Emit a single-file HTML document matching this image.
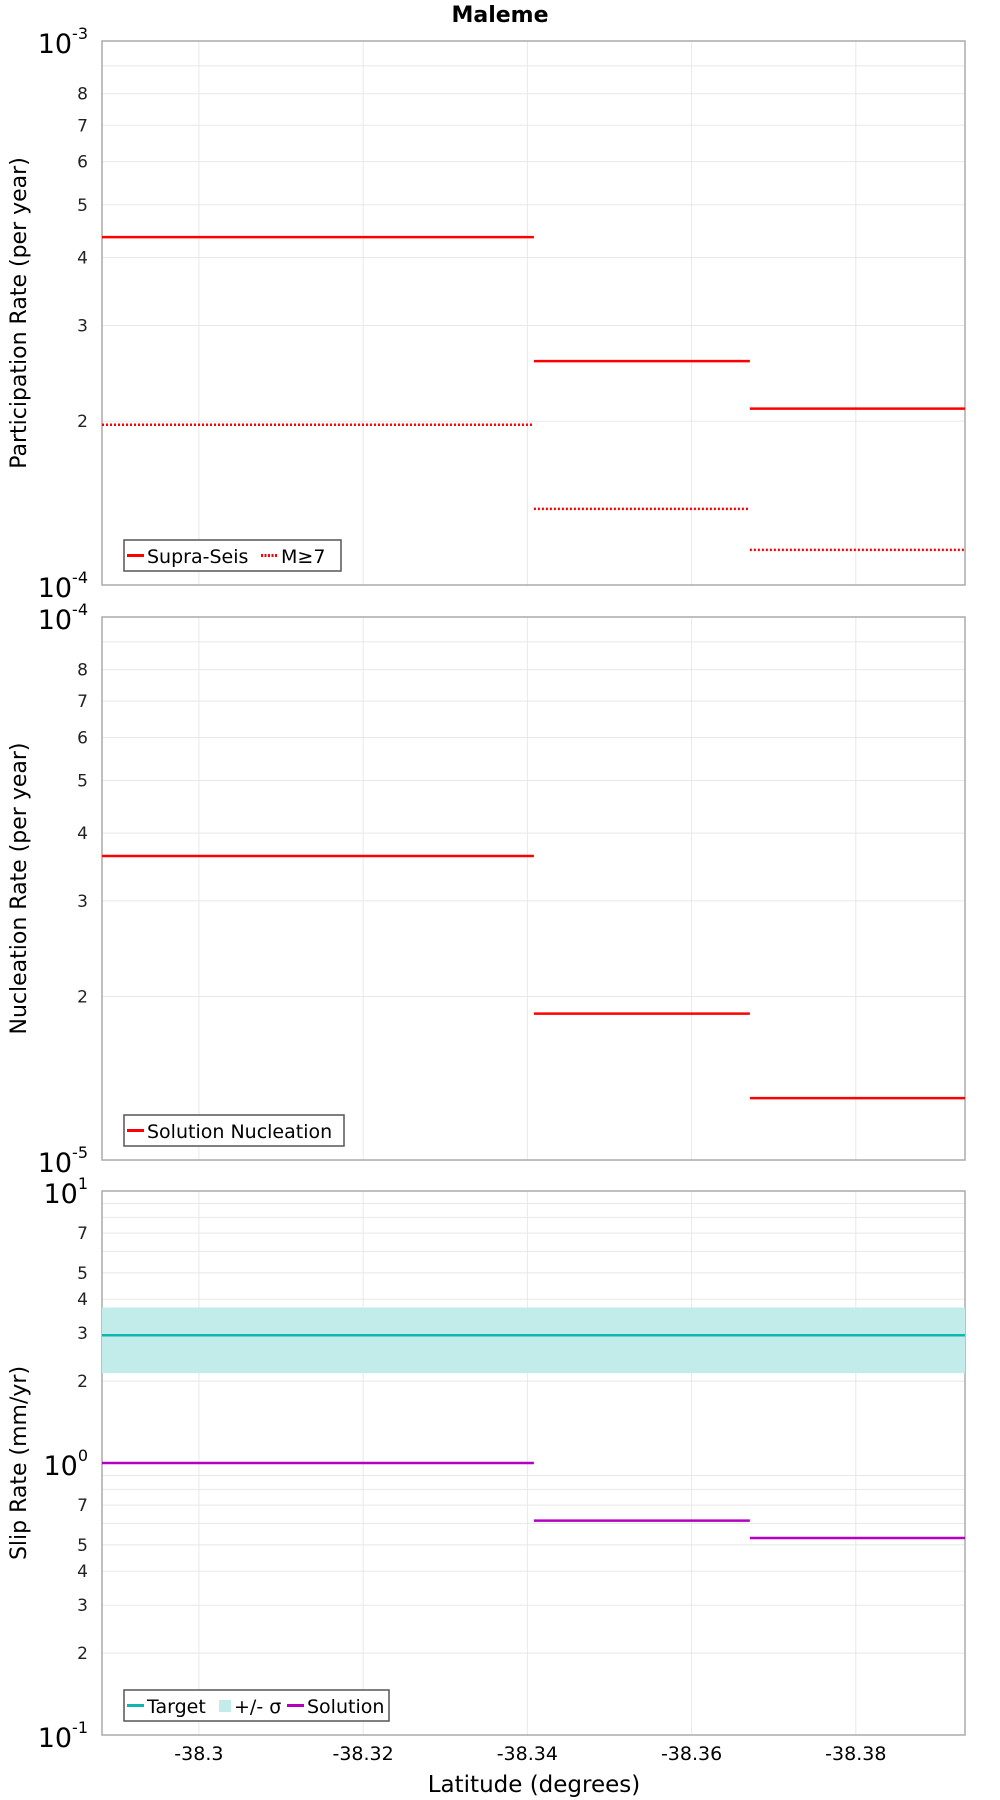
<!DOCTYPE html>
<html><head><meta charset="utf-8"><style>
body{margin:0;background:#fff;}
svg{display:block;font-family:"DejaVu Sans","Liberation Sans",sans-serif;}
</style></head><body>
<svg id="chart" width="1000" height="1800" viewBox="0 0 1000 1800" xmlns="http://www.w3.org/2000/svg">
<text x="500" y="22" text-anchor="middle" font-size="22" font-weight="bold">Maleme</text>
<g id="plots"></g>
<text x="534" y="1792" text-anchor="middle" font-size="23">Latitude (degrees)</text>
</svg>
<script>
const segEdges = [-38.2882, -38.3145, -38.3408, -38.3671, -38.3933];
const xTicks = [-38.30, -38.32, -38.34, -38.36, -38.38];
const xTickLabels = ["-38.3", "-38.32", "-38.34", "-38.36", "-38.38"];
const supraSeis = [4.36e-4, 4.36e-4, 2.58e-4, 2.11e-4];
const m7 = [1.97e-4, 1.97e-4, 1.38e-4, 1.16e-4];
const nucleation = [3.63e-5, 3.63e-5, 1.86e-5, 1.30e-5];
const slipTarget = [2.95];
const slipSigmaLow = [2.14];
const slipSigmaHigh = [3.73];
const slipSolution = [1.0, 1.0, 0.614, 0.53];

const NS = "http://www.w3.org/2000/svg";
const L = 102, R = 965;
const xScale = v => L + (v - segEdges[0]) / (segEdges[segEdges.length-1] - segEdges[0]) * (R - L);
const g = document.getElementById('plots');
function el(tag, attrs, parent, txt){
  const e = document.createElementNS(NS, tag);
  for (const k in attrs) e.setAttribute(k, attrs[k]);
  if (txt !== undefined) e.textContent = txt;
  (parent||g).appendChild(e); return e;
}
const panels = [
  {top:41, bot:585, lo:-4, hi:-3, minorLabels:[2,3,4,5,6,7,8], title:"Participation Rate (per year)", name:"participation"},
  {top:617, bot:1160, lo:-5, hi:-4, minorLabels:[2,3,4,5,6,7,8], title:"Nucleation Rate (per year)", name:"nucleation"},
  {top:1191, bot:1735, lo:-1, hi:1, minorLabels:[2,3,4,5,7], title:"Slip Rate (mm/yr)", name:"slip-rate"}
];
panels.forEach(p => {
  p.y = v => p.bot - (Math.log10(v) - p.lo) / (p.hi - p.lo) * (p.bot - p.top);
  const pg = el('g', {});
  
  
  for (let d = p.lo; d < p.hi; d++) {
    for (let m = 1; m <= 9; m++) {
      const v = m * Math.pow(10, d); const yy = p.y(v);
      if (m > 1) {
        const gl = el('line', {x1:L, x2:R, y1:yy, y2:yy, stroke:'#e8e8e8', 'stroke-width':1}, pg);
        
        
        if (p.minorLabels.includes(m)) {
          const t = el('text', {x:88, y:yy+6, 'text-anchor':'end', 'font-size':17, fill:'#222'}, pg, String(m));
          
          
        }
      }
    }
  }
  for (let d = p.lo; d <= p.hi; d++) {
    const yy = p.y(Math.pow(10, d));
    const t = el('text', {x:88, y:yy+12, 'text-anchor':'end', 'font-size':27}, pg);
    
    
    el('tspan', {}, t, '10');
    el('tspan', {dy:-14, 'font-size':16}, t, String(d));
  }
  xTicks.forEach(v => {
    const gl = el('line', {x1:xScale(v), x2:xScale(v), y1:p.top, y2:p.bot, stroke:'#e8e8e8', 'stroke-width':1}, pg);
    
    
  });
  const frame = el('rect', {x:L, y:p.top, width:R-L, height:p.bot-p.top, fill:'none', stroke:'#aaa', 'stroke-width':1.5}, pg);
  
  
  const cy = (p.top + p.bot) / 2;
  const yt = el('text', {x:0, y:0, transform:`translate(26,${cy}) rotate(-90)`, 'text-anchor':'middle', 'font-size':22}, pg, p.title);
  
  
  p.g = pg;
});
function steps(p, vals, color, dash, name){
  vals.forEach((v, i) => {
    const ln = el('line', {x1:xScale(segEdges[i]), x2:xScale(segEdges[i+1]), y1:p.y(v), y2:p.y(v), stroke:color, 'stroke-width':2.5}, p.g);
    if (dash) ln.setAttribute('stroke-dasharray', '2,2');
    
    
  });
}
steps(panels[0], supraSeis, '#ff0000', false, 'supra-seis');
steps(panels[0], m7, '#ff0000', true, 'm7');
steps(panels[1], nucleation, '#ff0000', false, 'nucleation');
const p3 = panels[2];
const band = el('rect', {x:L, y:p3.y(slipSigmaHigh[0]), width:R-L, height:p3.y(slipSigmaLow[0])-p3.y(slipSigmaHigh[0]), fill:'#c2ecea'}, p3.g);


const tl = el('line', {x1:L, x2:R, y1:p3.y(slipTarget[0]), y2:p3.y(slipTarget[0]), stroke:'#10b5b0', 'stroke-width':2.5}, p3.g);


steps(p3, slipSolution, '#b400c0', false, 'solution');
xTicks.forEach((v, i) => {
  const t = el('text', {x:xScale(v), y:1760, 'text-anchor':'middle', 'font-size':19}, g, xTickLabels[i]);
  
  
});
function legend(x, y, w, items, name){
  const lg = el('g', {});
  
  
  el('rect', {x:x, y:y, width:w, height:31, fill:'#fff', stroke:'#555', 'stroke-width':1.5}, lg);
  let cx = x + 3;
  items.forEach(it => {
    if (it.box) el('rect', {x:cx+2, y:y+10, width:12, height:12, fill:it.color}, lg);
    else {
      const ln = el('line', {x1:cx, x2:cx+17, y1:y+15.5, y2:y+15.5, stroke:it.color, 'stroke-width':3}, lg);
      if (it.dash) ln.setAttribute('stroke-dasharray', '2,1.5');
    }
    const t = el('text', {x:cx + (it.box?17:20), y:y+23, 'font-size':19}, lg, it.label);
    
    
    cx += it.w;
  });
}
legend(124, 540, 217, [{color:'#ff0000', label:'Supra-Seis', w:134}, {color:'#ff0000', dash:true, label:'M≥7', w:80}], 'legend-participation');
legend(124, 1115, 220, [{color:'#ff0000', label:'Solution Nucleation', w:210}], 'legend-nucleation');
legend(124, 1690, 265, [{color:'#10b5b0', label:'Target', w:90}, {color:'#c2ecea', box:true, label:'+/- σ', w:70}, {color:'#b400c0', label:'Solution', w:100}], 'legend-slip');
</script>
</body></html>
